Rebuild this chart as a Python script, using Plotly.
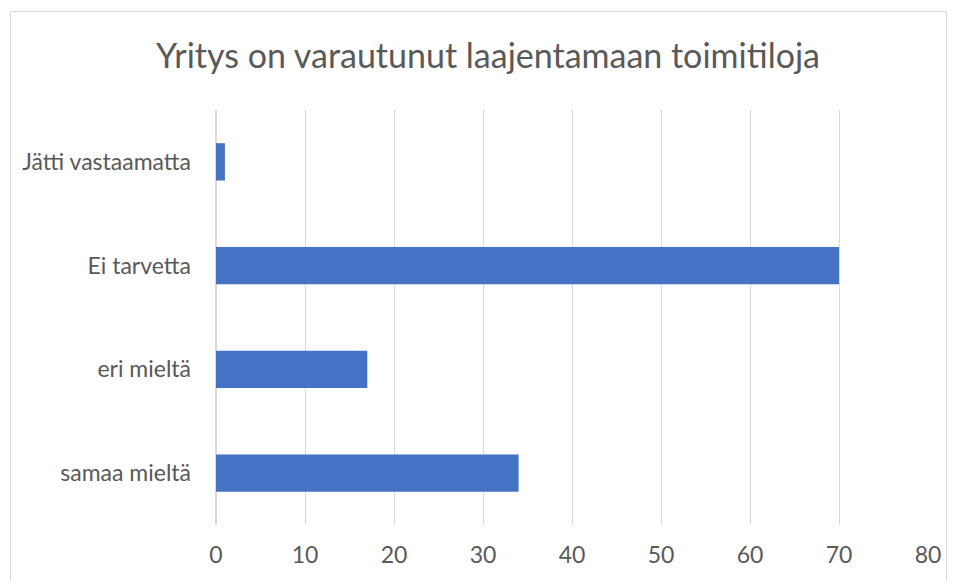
import plotly.graph_objects as go

categories = ["samaa mieltä", "eri mieltä", "Ei tarvetta", "Jätti vastaamatta"]
values = [34, 17, 70, 1]
tick_vals = [0, 10, 20, 30, 40, 50, 60, 70, 80]

OFF = 8  # default body margin of the html page
W, H = 957 - OFF, 581 - OFF
L, T = 216 - OFF, 110 - OFF
R = W - (928 - OFF)
B = H - (525 - OFF)
pw, ph = W - L - R, H - T - B

def px_to_paper_x(px):
    return (px - OFF - L) / pw

def px_to_paper_y(py):
    return (H - B - (py - OFF)) / ph

fig = go.Figure(go.Bar(
    y=categories, x=values, orientation="h",
    marker=dict(color="#4472C4", line=dict(width=0)),
))

fig.update_layout(
    width=W, height=H,
    margin=dict(l=L, r=R, t=T, b=B, autoexpand=False),
    paper_bgcolor="white", plot_bgcolor="white",
    bargap=0.64,
    showlegend=False,
    title=dict(text="Yritys on varautunut laajentamaan toimitiloja",
               font=dict(family="Lato", size=34, color="#595959"),
               x=(488 - OFF) / W, xref="container", xanchor="center",
               y=1 - (56 - OFF) / H, yanchor="middle"),
    xaxis=dict(range=[0, 80], tickvals=tick_vals, showgrid=True, gridcolor="#d9d9d9",
               gridwidth=1, zeroline=True, zerolinecolor="#d9d9d9", showline=False,
               ticks="", tickfont=dict(family="Lato", size=23, color="#595959"),
               ticklabelstandoff=14, fixedrange=True),
    yaxis=dict(showgrid=False, zeroline=False, showline=False, ticks="",
               tickfont=dict(family="Lato", size=23, color="#595959"),
               ticklabelstandoff=24, fixedrange=True),
    shapes=[dict(type="rect", xref="paper", yref="paper",
                 x0=px_to_paper_x(10.5), x1=px_to_paper_x(946.5),
                 y0=px_to_paper_y(640), y1=px_to_paper_y(11.5),
                 line=dict(color="#d9d9d9", width=1), fillcolor="rgba(0,0,0,0)",
                 layer="below")],
)

fig.write_html("out.html")
